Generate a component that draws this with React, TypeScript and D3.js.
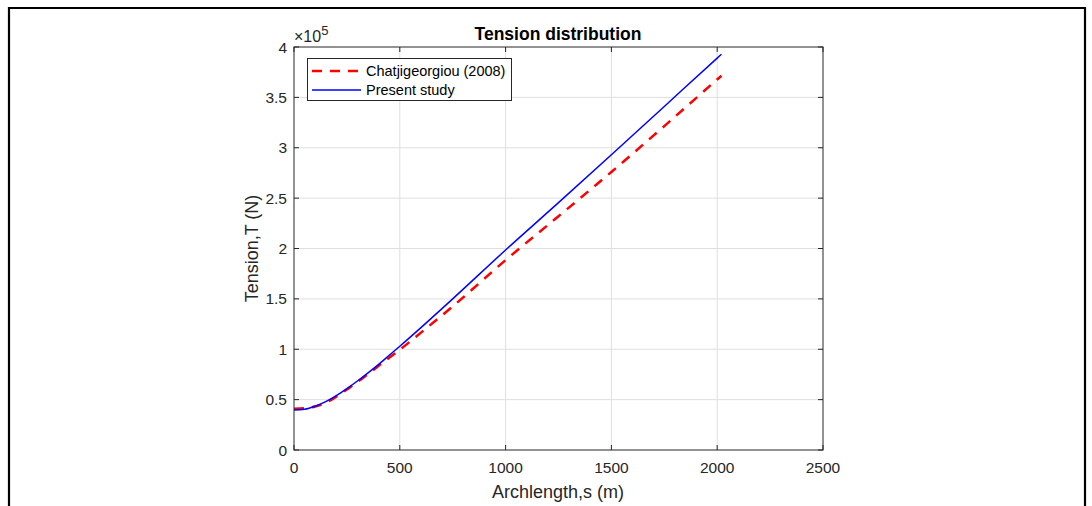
import React from "react";
import * as d3 from "d3";

const arcLength = [0, 50, 100, 150, 200, 250, 300, 350, 400, 450, 500, 600, 750, 1000, 1250, 1500, 1750, 2000, 2020];
const tensionChatji = [0.41, 0.415, 0.432, 0.468, 0.53, 0.6, 0.675, 0.755, 0.835, 0.915, 0.995, 1.165, 1.425, 1.885, 2.32, 2.76, 3.215, 3.678, 3.715];
const tensionPresent = [0.397, 0.405, 0.435, 0.48, 0.54, 0.61, 0.685, 0.765, 0.85, 0.94, 1.03, 1.215, 1.5, 1.985, 2.455, 2.93, 3.41, 3.89, 3.928];
const xTicks = [0, 500, 1000, 1500, 2000, 2500];
const yTicks = [0, 0.5, 1, 1.5, 2, 2.5, 3, 3.5, 4];
const seriesNames = ["Chatjigeorgiou (2008)", "Present study"];

const W = 1092, H = 506;
const L = 294, R = 823, T = 47, B = 450;
const font = "'Liberation Sans', Arial, Helvetica, sans-serif";
const axisCol = "#262626";

export default function App() {
  const x = d3.scaleLinear().domain([0, 2500]).range([L, R]);
  const y = d3.scaleLinear().domain([0, 4]).range([B, T]);
  const line = d3
    .line<number>()
    .x((_, i) => x(arcLength[i]))
    .y((d) => y(d))
    .curve(d3.curveMonotoneX);
  const tick = 5;
  return (
    <svg width={W} height={H} style={{ position: "absolute", left: 0, top: 0, background: "#fff" }} fontFamily={font}>
      <rect x={0} y={0} width={W} height={H} fill="#fff" />
      <path d={`M9,${H + 5} L9,8 L1085,8 L1085,${H + 5}`} fill="none" stroke="#000" strokeWidth={2.2} />
      {/* grid */}
      {xTicks.slice(1, -1).map((t) => (
        <line key={"gx" + t} x1={x(t)} x2={x(t)} y1={T} y2={B} stroke="#dfdfdf" strokeWidth={1} />
      ))}
      {yTicks.slice(1, -1).map((t) => (
        <line key={"gy" + t} x1={L} x2={R} y1={y(t)} y2={y(t)} stroke="#dfdfdf" strokeWidth={1} />
      ))}
      {/* lines */}
      <path d={line(tensionChatji) || ""} fill="none" stroke="#ff0000" strokeWidth={2.5} strokeDasharray="10,8" />
      <path d={line(tensionPresent) || ""} fill="none" stroke="#0000ff" strokeWidth={1.5} />
      {/* axes box */}
      <rect x={L} y={T} width={R - L} height={B - T} fill="none" stroke={axisCol} strokeWidth={1} />
      {xTicks.map((t) => (
        <g key={"xt" + t}>
          <line x1={x(t)} x2={x(t)} y1={B} y2={B - tick} stroke={axisCol} />
          <line x1={x(t)} x2={x(t)} y1={T} y2={T + tick} stroke={axisCol} />
          <text x={x(t)} y={473} textAnchor="middle" fontSize={15.5} fill={axisCol}>{t}</text>
        </g>
      ))}
      {yTicks.map((t) => (
        <g key={"yt" + t}>
          <line x1={L} x2={L + tick} y1={y(t)} y2={y(t)} stroke={axisCol} />
          <line x1={R} x2={R - tick} y1={y(t)} y2={y(t)} stroke={axisCol} />
          <text x={287} y={y(t) + 5.5} textAnchor="end" fontSize={15.5} fill={axisCol}>{t}</text>
        </g>
      ))}
      {/* exponent */}
      <text x={294} y={42} fontSize={16} fill={axisCol}>
        ×10<tspan dy={-7} fontSize={13}>5</tspan>
      </text>
      {/* title */}
      <text x={558} y={40} textAnchor="middle" fontSize={17.5} fontWeight="bold" fill="#000">Tension distribution</text>
      {/* axis labels */}
      <text x={558} y={498} textAnchor="middle" fontSize={18} fill={axisCol}>Archlength,s (m)</text>
      <text transform={`translate(258,${(T + B) / 2}) rotate(-90)`} textAnchor="middle" fontSize={18} fill={axisCol}>Tension,T (N)</text>
      {/* legend */}
      <rect x={307.5} y={58.5} width={204} height={42} fill="#fff" stroke={axisCol} strokeWidth={1} />
      <line x1={312} x2={361} y1={71} y2={71} stroke="#ff0000" strokeWidth={2.5} strokeDasharray="10,8" />
      <line x1={312} x2={361} y1={90} y2={90} stroke="#0000ff" strokeWidth={1.5} />
      <text x={366} y={76} fontSize={14.5} fill="#000">{seriesNames[0]}</text>
      <text x={366} y={95} fontSize={14.5} fill="#000">{seriesNames[1]}</text>
    </svg>
  );
}
